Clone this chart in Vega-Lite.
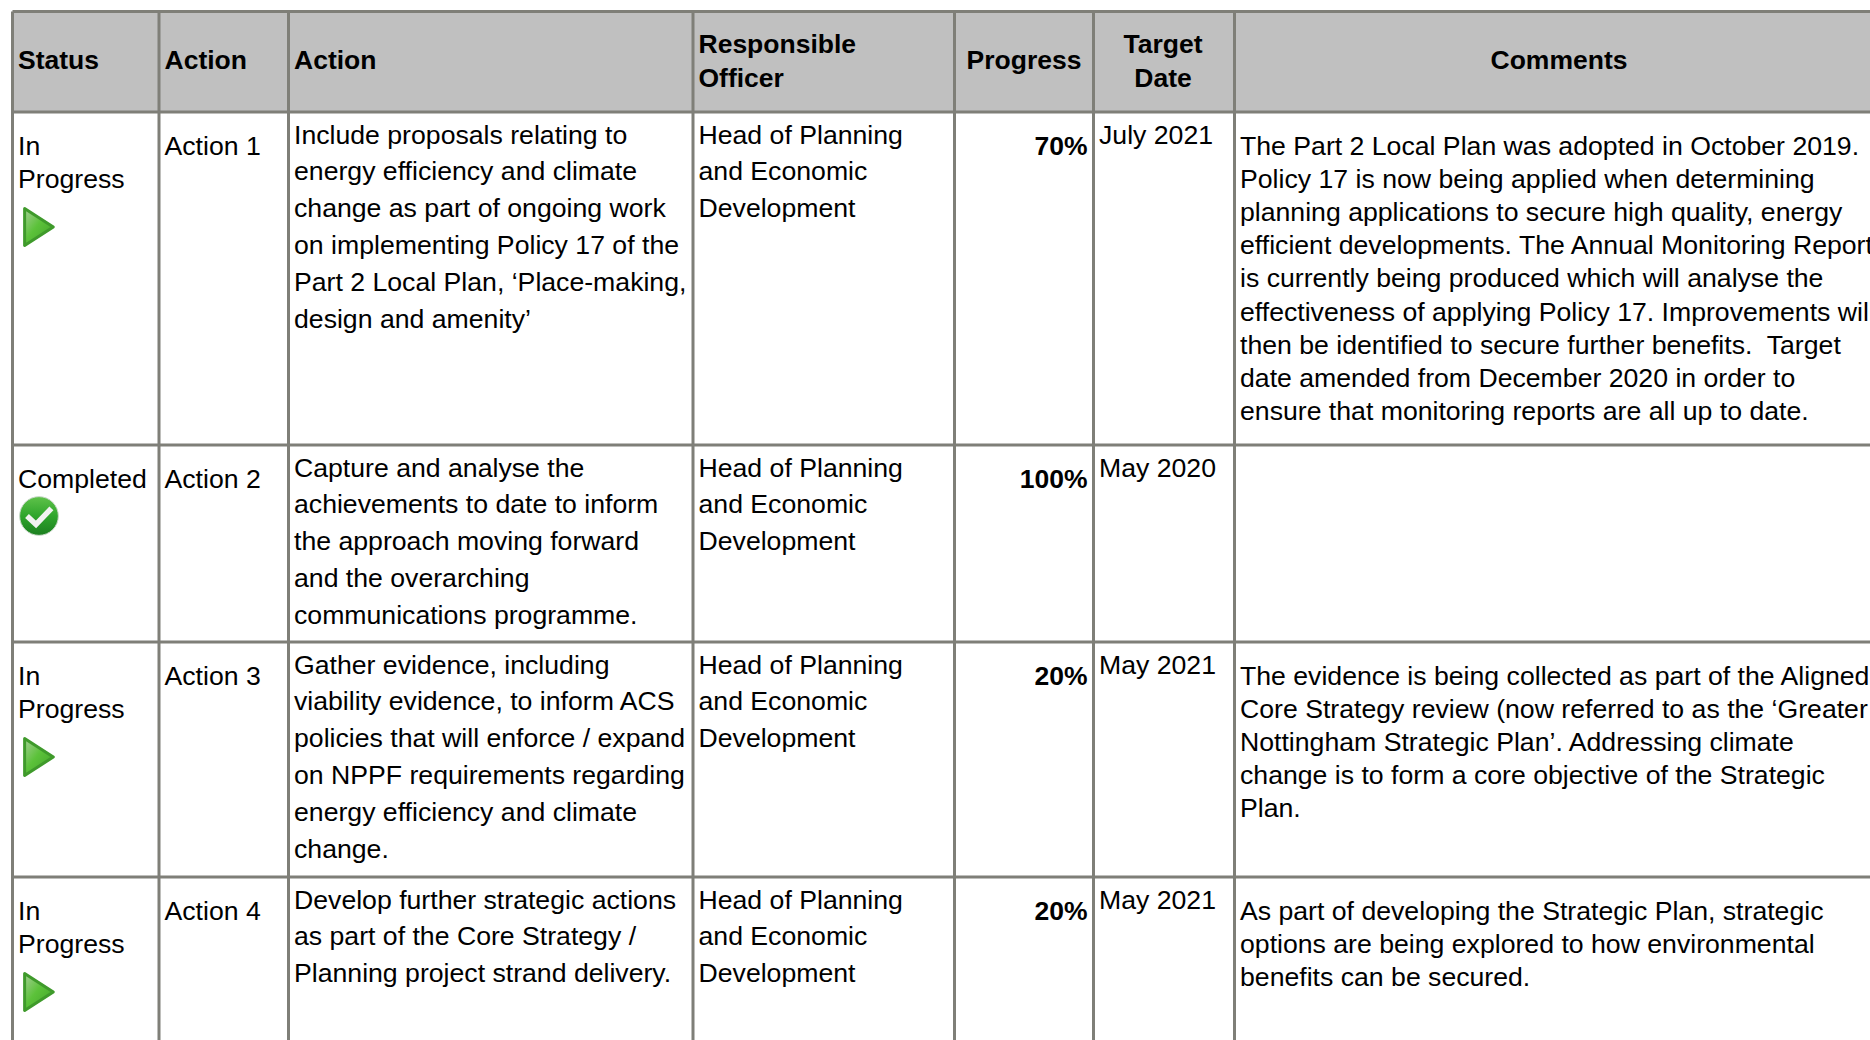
{
"$schema":"https://vega.github.io/schema/vega-lite/v6.json",
"width":1870,"height":1040,"padding":0,"autosize":"none",
"background":"white",
"view":{"stroke":null},
"config":{"text":{"font":"Liberation Sans","fontSize":26.65,"color":"#000000","lineBreak":"\n","align":"left","baseline":"alphabetic"}},
"datasets":{
"cells":[
{"row":0,"col":0,"text":"Status"},
{"row":0,"col":1,"text":"Action"},
{"row":0,"col":2,"text":"Action"},
{"row":0,"col":3,"text":"Responsible\nOfficer"},
{"row":0,"col":4,"text":"Progress"},
{"row":0,"col":5,"text":"Target\nDate"},
{"row":0,"col":6,"text":"Comments"},
{"row":1,"col":0,"text":"In\nProgress"},
{"row":1,"col":1,"text":"Action 1"},
{"row":1,"col":2,"text":"Include proposals relating to\nenergy efficiency and climate\nchange as part of ongoing work\non implementing Policy 17 of the\nPart 2 Local Plan, ‘Place-making,\ndesign and amenity’"},
{"row":1,"col":3,"text":"Head of Planning\nand Economic\nDevelopment"},
{"row":1,"col":4,"text":"70%"},
{"row":1,"col":5,"text":"July 2021"},
{"row":1,"col":6,"text":"The Part 2 Local Plan was adopted in October 2019.\nPolicy 17 is now being applied when determining\nplanning applications to secure high quality, energy\nefficient developments. The Annual Monitoring Report\nis currently being produced which will analyse the\neffectiveness of applying Policy 17. Improvements will\nthen be identified to secure further benefits.\u00a0 Target\ndate amended from December 2020 in order to\nensure that monitoring reports are all up to date."},
{"row":2,"col":0,"text":"Completed"},
{"row":2,"col":1,"text":"Action 2"},
{"row":2,"col":2,"text":"Capture and analyse the\nachievements to date to inform\nthe approach moving forward\nand the overarching\ncommunications programme."},
{"row":2,"col":3,"text":"Head of Planning\nand Economic\nDevelopment"},
{"row":2,"col":4,"text":"100%"},
{"row":2,"col":5,"text":"May 2020"},
{"row":3,"col":0,"text":"In\nProgress"},
{"row":3,"col":1,"text":"Action 3"},
{"row":3,"col":2,"text":"Gather evidence, including\nviability evidence, to inform ACS\npolicies that will enforce / expand\non NPPF requirements regarding\nenergy efficiency and climate\nchange."},
{"row":3,"col":3,"text":"Head of Planning\nand Economic\nDevelopment"},
{"row":3,"col":4,"text":"20%"},
{"row":3,"col":5,"text":"May 2021"},
{"row":3,"col":6,"text":"The evidence is being collected as part of the Aligned\nCore Strategy review (now referred to as the ‘Greater\nNottingham Strategic Plan’. Addressing climate\nchange is to form a core objective of the Strategic\nPlan."},
{"row":4,"col":0,"text":"In\nProgress"},
{"row":4,"col":1,"text":"Action 4"},
{"row":4,"col":2,"text":"Develop further strategic actions\nas part of the Core Strategy /\nPlanning project strand delivery."},
{"row":4,"col":3,"text":"Head of Planning\nand Economic\nDevelopment"},
{"row":4,"col":4,"text":"20%"},
{"row":4,"col":5,"text":"May 2021"},
{"row":4,"col":6,"text":"As part of developing the Strategic Plan, strategic\noptions are being explored to how environmental\nbenefits can be secured."}
],
"status":[
{"row":1,"col":0,"status":"In Progress"},
{"row":2,"col":0,"status":"Completed"},
{"row":3,"col":0,"status":"In Progress"},
{"row":4,"col":0,"status":"In Progress"}
],
"header":[{"row":0,"rowEnd":1,"col":0,"colEnd":7}],
"cols":[{"col":0,"row":0,"rowEnd":5},{"col":1,"row":0,"rowEnd":5},{"col":2,"row":0,"rowEnd":5},{"col":3,"row":0,"rowEnd":5},{"col":4,"row":0,"rowEnd":5},{"col":5,"row":0,"rowEnd":5},{"col":6,"row":0,"rowEnd":5}],
"rows":[{"row":0,"col":0,"colEnd":7},{"row":1,"col":0,"colEnd":7},{"row":2,"col":0,"colEnd":7},{"row":3,"col":0,"colEnd":7},{"row":4,"col":0,"colEnd":7}]
},
"encoding":{
"x":{"field":"col","type":"quantitative","axis":null,"scale":{"domain":[0,1,2,3,4,5,6,7],"range":[12.5,159,288.5,693,954.5,1093.5,1234.5,1870]}},
"y":{"field":"row","type":"quantitative","axis":null,"scale":{"domain":[0,1,2,3,4,5],"range":[11.5,112,445,642,877,1040]}}
},
"layer":[
{"data":{"name":"header"},"mark":{"type":"rect","fill":"#C0C0C0"},"encoding":{"x2":{"field":"colEnd"},"y2":{"field":"rowEnd"}}},
{"data":{"name":"cols"},"mark":{"type":"rule","color":"#7F7F78","strokeWidth":3},"encoding":{"y2":{"field":"rowEnd"}}},
{"data":{"name":"rows"},"mark":{"type":"rule","color":"#7F7F78","strokeWidth":3},"encoding":{"x2":{"field":"colEnd"}}},
{"data":{"name":"cells"},"transform":[{"filter":"datum.row==0 && datum.col<3"}],"mark":{"type":"text","fontSize":26.5,"fontWeight":"bold","dx":5.5,"dy":57.5},"encoding":{"text":{"field":"text"}}},
{"data":{"name":"cells"},"transform":[{"filter":"datum.row==0 && datum.col==3"}],"mark":{"type":"text","fontSize":26.5,"fontWeight":"bold","dx":5.5,"dy":41.5,"lineHeight":33.5},"encoding":{"text":{"field":"text"}}},
{"data":{"name":"cells"},"transform":[{"filter":"datum.row==0 && datum.col==4"}],"mark":{"type":"text","fontSize":26.5,"fontWeight":"bold","align":"center","dx":69.5,"dy":57.5},"encoding":{"text":{"field":"text"}}},
{"data":{"name":"cells"},"transform":[{"filter":"datum.row==0 && datum.col==5"}],"mark":{"type":"text","fontSize":26.5,"fontWeight":"bold","align":"center","dx":69.5,"dy":41.5,"lineHeight":33.5},"encoding":{"text":{"field":"text"}}},
{"data":{"name":"cells"},"transform":[{"filter":"datum.row==0 && datum.col==6"}],"mark":{"type":"text","fontSize":26.5,"fontWeight":"bold","align":"center","dx":324.5,"dy":57.5},"encoding":{"text":{"field":"text"}}},
{"data":{"name":"cells"},"transform":[{"filter":"datum.row>0 && datum.col<2"}],"mark":{"type":"text","dx":5.5,"dy":42.5,"lineHeight":33},"encoding":{"text":{"field":"text"}}},
{"data":{"name":"cells"},"transform":[{"filter":"datum.row>0 && (datum.col==2 || datum.col==3)"}],"mark":{"type":"text","dx":5.5,"dy":31.5,"lineHeight":36.9},"encoding":{"text":{"field":"text"}}},
{"data":{"name":"cells"},"transform":[{"filter":"datum.row>0 && datum.col==4"}],"mark":{"type":"text","fontSize":26.5,"fontWeight":"bold","align":"right","dx":133,"dy":42.5},"encoding":{"text":{"field":"text"}}},
{"data":{"name":"cells"},"transform":[{"filter":"datum.row>0 && datum.col==5"}],"mark":{"type":"text","dx":5.5,"dy":32},"encoding":{"text":{"field":"text"}}},
{"data":{"name":"cells"},"transform":[{"filter":"datum.row>0 && datum.col==6"}],"mark":{"type":"text","dx":5.5,"dy":42.5,"lineHeight":33.2},"encoding":{"text":{"field":"text"}}},
{"data":{"name":"status"},"transform":[{"filter":"datum.status=='In Progress'"}],
 "mark":{"type":"point","filled":true,"shape":"M -0.75 -1 L 0.8 0 L -0.75 1 Z","size":1369,"xOffset":26,"yOffset":115,"opacity":1,
  "fill":{"x1":0,"y1":0,"x2":1,"y2":1,"gradient":"linear","stops":[{"offset":0,"color":"#a5cf95"},{"offset":0.45,"color":"#5cc23a"},{"offset":1,"color":"#3fa028"}]},
  "stroke":"#3f9a2b","strokeWidth":3,"strokeJoin":"round"}},
{"data":{"name":"status"},"transform":[{"filter":"datum.status=='Completed'"}],
 "mark":{"type":"point","filled":true,"shape":"circle","size":1500,"xOffset":26.5,"yOffset":71,"opacity":1,
  "fill":{"x1":0.5,"y1":0,"x2":0.5,"y2":1,"gradient":"linear","stops":[{"offset":0,"color":"#5fc24a"},{"offset":0.5,"color":"#2fa52c"},{"offset":1,"color":"#1c7f20"}]},
  "stroke":"#c8d8c8","strokeWidth":1}},
{"data":{"name":"status"},"transform":[{"filter":"datum.status=='Completed'"}],
 "mark":{"type":"point","filled":false,"shape":"M -0.6 0 L -0.15 0.42 L 0.62 -0.38","size":1600,"xOffset":26.5,"yOffset":71,"opacity":1,"stroke":"#f2f2f2","strokeWidth":5.5,"strokeJoin":"miter"}}
]
}
